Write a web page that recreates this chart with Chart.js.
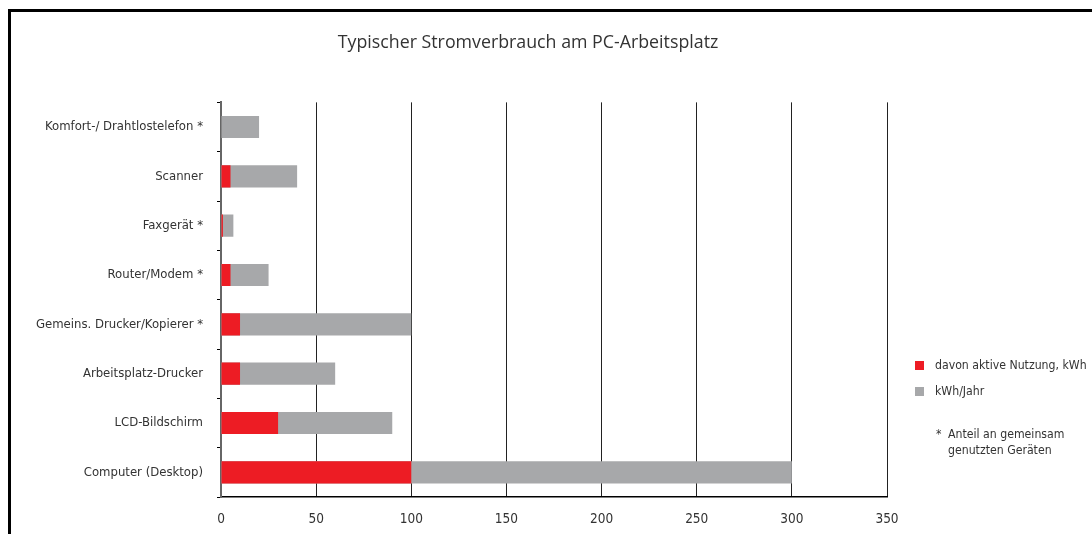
<!DOCTYPE html>
<html>
<head>
<meta charset="utf-8">
<script src="https://cdn.jsdelivr.net/npm/chart.js@4"></script>
<style>
  html, body { margin: 0; padding: 0; background: #fff; }
  body { width: 1092px; height: 534px; position: relative; overflow: hidden; }
  #frame {
    position: absolute; left: 8px; top: 9px; width: 1100px; height: 540px;
    border-top: 3px solid #000; border-left: 3px solid #000;
  }
  #wrap { position: absolute; left: 11px; top: 12px; width: 1034px; height: 522px; }
  #legend {
    position: absolute; left: 915px; top: 352px;
    font-family: 'DejaVu Sans Condensed', 'Liberation Sans Narrow', sans-serif;
    font-size: 12.2px; color: #333; white-space: nowrap;
  }
  .item { display: flex; align-items: center; height: 26px; }
  .box { width: 9px; height: 9px; margin-right: 11px; }
  #note { margin-top: 22px; margin-left: 21px; line-height: 16px; display: flex; }
  #note span:first-child { width: 12px; }
</style>
</head>
<body>
<div id="frame"></div>
<div id="wrap"><canvas id="chart"></canvas></div>
<div id="legend"></div>
<script>
const categories = [
  'Komfort-/ Drahtlostelefon *',
  'Scanner',
  'Faxgerät *',
  'Router/Modem *',
  'Gemeins. Drucker/Kopierer *',
  'Arbeitsplatz-Drucker',
  'LCD-Bildschirm',
  'Computer (Desktop)'
];
const activeUse = [0, 5, 1, 5, 10, 10, 30, 100];
const yearly = [20, 40, 6.5, 25, 100, 60, 90, 300];
const xTicks = [0, 50, 100, 150, 200, 250, 300, 350];
const seriesLabels = ['davon aktive Nutzung, kWh', 'kWh/Jahr'];
const seriesColors = ['#ed1c24', '#a7a8aa'];
const footnote = ['Anteil an gemeinsam', 'genutzten Geräten'];

const narrow = "'DejaVu Sans Condensed', 'Liberation Sans Narrow', sans-serif";

const data = {
  labels: categories,
  datasets: [{
    label: seriesLabels[0],
    data: activeUse,
    backgroundColor: seriesColors[0],
    xAxisID: 'x',
    yAxisID: 'y'
  }, {
    label: seriesLabels[1],
    data: yearly,
    backgroundColor: seriesColors[1],
    xAxisID: 'x',
    yAxisID: 'y'
  }]
};

const options = {
  indexAxis: 'y',
  responsive: true,
  maintainAspectRatio: false,
  animation: false,
  categoryPercentage: 0.9,
  barPercentage: 0.5,
  layout: { padding: 0 },
  plugins: {
    legend: { display: false },
    tooltip: { enabled: false },
    title: {
      display: true,
      text: 'Typischer Stromverbrauch am PC-Arbeitsplatz',
      color: '#333',
      font: { family: "'Open Sans', sans-serif", size: 17.8, weight: 'normal' },
      padding: { top: 20, bottom: 49 }
    }
  },
  scales: {
    x: {
      min: 0,
      max: 350,
      afterBuildTicks: (scale) => { scale.ticks = xTicks.map(v => ({ value: v })); },
      afterFit: (scale) => { scale.height = 37; },
      border: { color: '#000', width: 1.5 },
      grid: {
        drawTicks: false,
        color: (ctx) => ctx.tick && ctx.tick.value === 0 ? 'rgba(0,0,0,0)' : '#222',
        lineWidth: 1
      },
      ticks: {
        padding: 14,
        color: '#333',
        font: { family: narrow, size: 13.5 }
      }
    },
    y: {
      stacked: true,
      afterFit: (scale) => { scale.width = 210; },
      border: { color: '#666', width: 2 },
      grid: {
        drawOnChartArea: false,
        offset: true,
        tickLength: 4,
        color: '#000'
      },
      ticks: {
        padding: 14,
        color: '#333',
        font: { family: narrow, size: 13 }
      }
    },
    // empty right-hand axis, only keeps room for the legend
    yRight: {
      type: 'linear',
      position: 'right',
      afterFit: (scale) => { scale.width = 158; },
      grid: { display: false },
      border: { display: false },
      ticks: { display: false }
    }
  }
};

new Chart(document.getElementById('chart').getContext('2d'), {
  type: 'bar',
  data,
  options
});

// legend + footnote next to the plot
const legend = document.getElementById('legend');
seriesLabels.forEach((label, i) => {
  const row = document.createElement('div');
  row.className = 'item';
  row.innerHTML = '<div class="box" style="background:' + seriesColors[i] + '"></div><span>' + label + '</span>';
  legend.appendChild(row);
});
const note = document.createElement('div');
note.id = 'note';
note.innerHTML = '<span>*</span><span>' + footnote.join('<br>') + '</span>';
legend.appendChild(note);
</script>
</body>
</html>
